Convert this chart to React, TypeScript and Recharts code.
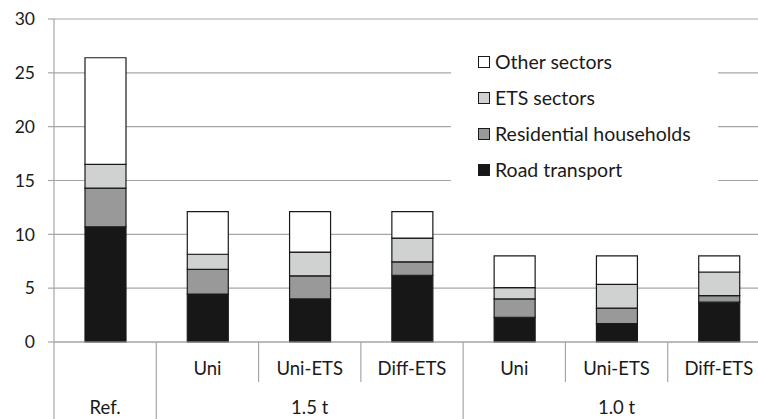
import React from 'react';
import { BarChart, Bar, XAxis, YAxis, CartesianGrid, Legend } from 'recharts';

// scenario row (first line under the axis) and group row (second line)
const scenarios = ['', 'Uni', 'Uni-ETS', 'Diff-ETS', 'Uni', 'Uni-ETS', 'Diff-ETS'];
const groups = ['Ref.', '1.5 t', '1.5 t', '1.5 t', '1.0 t', '1.0 t', '1.0 t'];

const roadTransport = [10.7, 4.45, 4.0, 6.2, 2.3, 1.7, 3.7];
const residential = [3.6, 2.3, 2.15, 1.25, 1.7, 1.45, 0.6];
const etsSectors = [2.2, 1.4, 2.2, 2.2, 1.05, 2.2, 2.2];
const otherSectors = [9.9, 3.95, 3.75, 2.45, 2.95, 2.65, 1.5];

const yTicks = [0, 5, 10, 15, 20, 25, 30];

const series = [
  { key: 'road', name: 'Road transport', values: roadTransport, color: '#171717' },
  { key: 'res', name: 'Residential households', values: residential, color: '#999999' },
  { key: 'ets', name: 'ETS sectors', values: etsSectors, color: '#d0d2d2' },
  { key: 'other', name: 'Other sectors', values: otherSectors, color: '#ffffff' },
];

const data = scenarios.map((s, i) => {
  const row: any = { id: `${groups[i]}|${s}|${i}` };
  series.forEach(sr => { row[sr.key] = sr.values[i]; });
  return row;
});

const FONT = 'Lato, "Open Sans", sans-serif';
const TEXT = '#1a1a1a';
const GRID = '#a6a6a6';

const CategoryTick = (props: any) => {
  const { x, y, payload } = props;
  const i = payload.index;
  const half = payload.offset || 51;
  const left = x - half;
  const groupStart = i === 0 || groups[i] !== groups[i - 1];
  const isGroupMid = groups[i] === 'Ref.' || (i > 0 && groups[i - 1] === groups[i] && groups[i + 1] === groups[i]);
  return (
    <g>
      <line x1={left} y1={y} x2={left} y2={groupStart ? y + 80 : y + 40} stroke={GRID} strokeWidth={1.2} />
      {scenarios[i] && (
        <text x={x} y={y + 33} textAnchor="middle" fontSize={18.5} fontFamily={FONT} fill={TEXT}>
          {scenarios[i]}
        </text>
      )}
      {isGroupMid && (
        <text x={x} y={y + 72} textAnchor="middle" fontSize={18.5} fontFamily={FONT} fill={TEXT}>
          {groups[i]}
        </text>
      )}
    </g>
  );
};

const renderLegend = () => (
  <div style={{ background: '#fff', width: 267, height: 144, fontFamily: FONT }}>
    {[...series].reverse().map(sr => (
      <div key={sr.key} style={{ height: 36, display: 'flex', alignItems: 'center', paddingLeft: 27 }}>
        <span style={{
          display: 'inline-block', width: 12, height: 12, background: sr.color,
          border: '1px solid #1a1a1a', marginRight: 5, boxSizing: 'border-box'
        }} />
        <span style={{ fontSize: 19.5, color: TEXT, lineHeight: '36px' }}>{sr.name}</span>
      </div>
    ))}
  </div>
);

export default function App() {
  return (
    <div style={{ position: 'absolute', left: 0, top: 0, width: 758, height: 419, overflow: 'hidden', background: '#fff' }}>
      <BarChart width={776} height={419} data={data} margin={{ top: 19, right: 6, left: 0, bottom: 0 }}>
        <CartesianGrid horizontal vertical={false} stroke={GRID} strokeWidth={1.2} />
        <XAxis
          dataKey="id"
          height={77}
          interval={0}
          tickSize={0}
          tickMargin={0}
          axisLine={{ stroke: GRID, strokeWidth: 1.2 }}
          tickLine={false}
          tick={<CategoryTick />}
        />
        <YAxis
          width={54}
          domain={[0, 30]}
          ticks={yTicks}
          interval={0}
          tickSize={6}
          tickMargin={13}
          axisLine={{ stroke: GRID, strokeWidth: 1.2 }}
          tickLine={{ stroke: GRID, strokeWidth: 1.2 }}
          tick={{ fill: TEXT, fontSize: 17.5, fontFamily: FONT }}
        />
        <Legend
          layout="vertical"
          align="center"
          verticalAlign="middle"
          content={renderLegend}
          wrapperStyle={{ left: 451, top: 44, width: 267, height: 144 }}
        />
        {series.map(sr => (
          <Bar
            key={sr.key}
            dataKey={sr.key}
            name={sr.name}
            stackId="a"
            fill={sr.color}
            stroke="#1a1a1a"
            strokeWidth={1.2}
            barSize={41}
            isAnimationActive={false}
          />
        ))}
      </BarChart>
    </div>
  );
}
